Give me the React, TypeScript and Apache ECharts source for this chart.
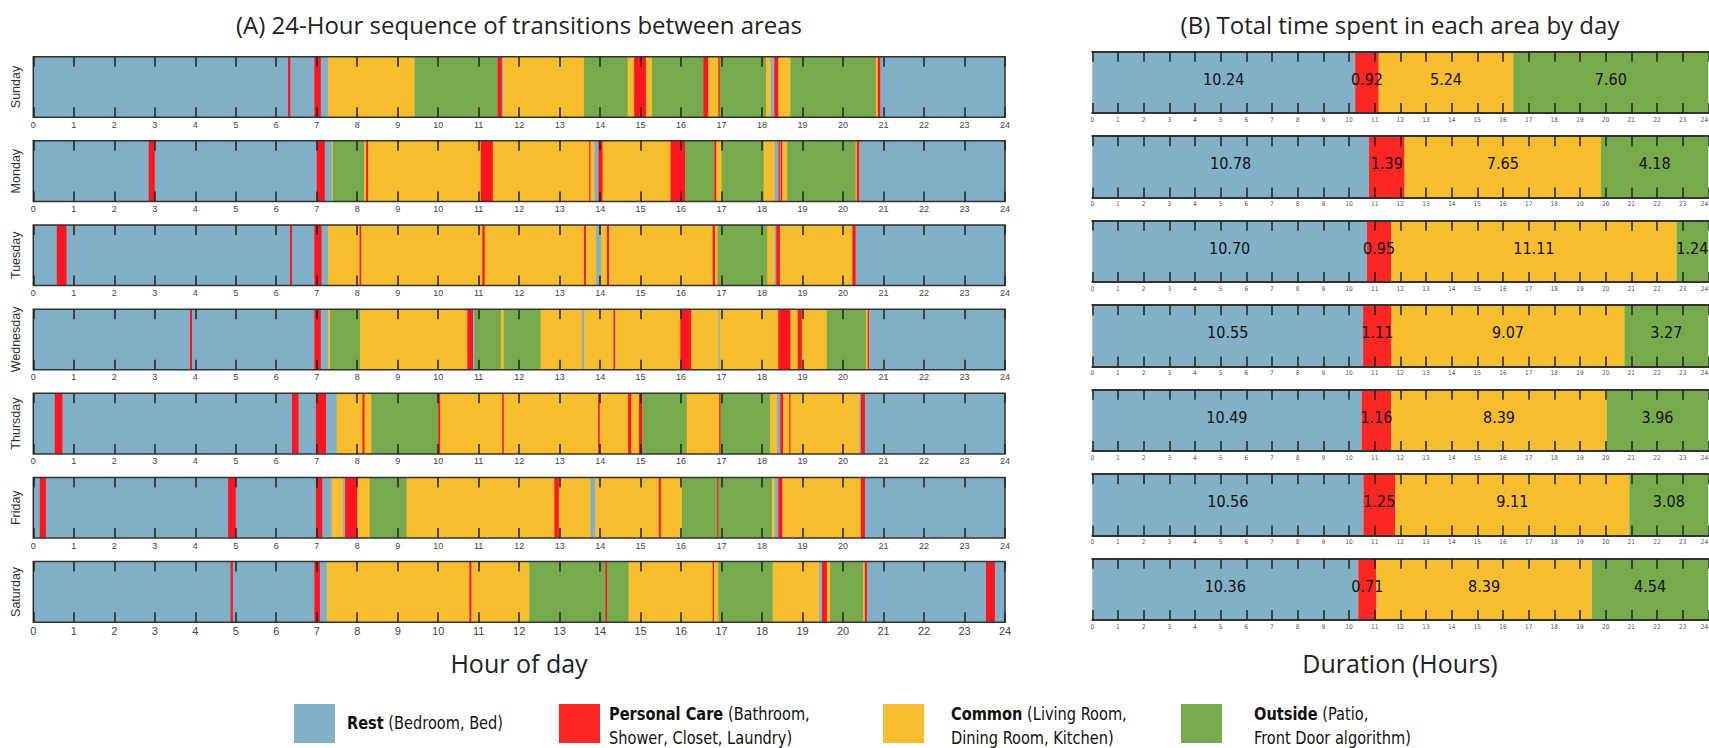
import { useEffect, useRef } from 'react';
import * as echarts from 'echarts';

// ---------- DATA ----------
const days = ['Sunday', 'Monday', 'Tuesday', 'Wednesday', 'Thursday', 'Friday', 'Saturday'];
const areaNames = ['Rest', 'Personal Care', 'Common', 'Outside'];
const areaDetails = ['(Bedroom, Bed)', '(Bathroom,\nShower, Closet, Laundry)', '(Living Room,\nDining Room, Kitchen)', '(Patio,\nFront Door algorithm)'];

// segments: [startHour, endHour, area]  (0 Rest, 1 Personal Care, 2 Common, 3 Outside)
const sunday = [[0,6.29,0],[6.29,6.35,1],[6.35,6.94,0],[6.94,7.10,1],[7.10,7.28,0],[7.28,9.42,2],[9.42,11.47,3],[11.47,11.57,1],[11.57,11.60,0],[11.60,13.60,2],[13.60,14.68,3],[14.68,14.84,2],[14.84,15.13,1],[15.13,15.28,2],[15.28,16.55,3],[16.55,16.67,1],[16.67,16.92,2],[16.92,16.95,1],[16.95,18.10,3],[18.10,18.21,2],[18.21,18.30,0],[18.30,18.40,1],[18.40,18.70,2],[18.70,20.81,3],[20.81,20.86,2],[20.86,20.92,1],[20.92,24,0]];
const monday = [[0,2.85,0],[2.85,3.00,1],[3.00,7.00,0],[7.00,7.20,1],[7.20,7.37,0],[7.37,7.40,2],[7.40,8.17,3],[8.17,8.22,2],[8.22,8.27,1],[8.27,11.05,2],[11.05,11.35,1],[11.35,13.73,2],[13.73,13.76,1],[13.76,13.86,2],[13.86,13.96,0],[13.96,14.06,1],[14.06,15.74,2],[15.74,16.10,1],[16.10,16.82,3],[16.82,16.87,1],[16.87,17.00,2],[17.00,18.04,3],[18.04,18.31,2],[18.31,18.41,0],[18.41,18.44,1],[18.44,18.46,2],[18.46,18.50,1],[18.50,18.62,2],[18.62,20.31,3],[20.31,20.34,2],[20.34,20.40,1],[20.40,24,0]];
const tuesday = [[0,0.58,0],[0.58,0.82,1],[0.82,6.34,0],[6.34,6.39,1],[6.39,6.94,0],[6.94,7.12,1],[7.12,7.28,0],[7.28,8.06,2],[8.06,8.10,1],[8.10,11.09,2],[11.09,11.15,1],[11.15,13.60,2],[13.60,13.65,1],[13.65,13.90,2],[13.90,14.02,0],[14.02,14.17,2],[14.17,14.22,1],[14.22,16.78,2],[16.78,16.84,1],[16.84,16.90,2],[16.90,18.13,3],[18.13,18.31,2],[18.31,18.35,0],[18.35,18.44,1],[18.44,20.23,2],[20.23,20.31,1],[20.31,24,0]];
const wednesday = [[0,3.87,0],[3.87,3.92,1],[3.92,6.94,0],[6.94,7.10,1],[7.10,7.28,0],[7.28,7.33,2],[7.33,8.07,3],[8.07,10.72,2],[10.72,10.86,1],[10.86,10.90,0],[10.90,11.55,3],[11.55,11.62,2],[11.62,12.53,3],[12.53,13.55,2],[13.55,13.60,0],[13.60,14.33,2],[14.33,14.37,1],[14.37,15.98,2],[15.98,16.25,1],[16.25,16.92,2],[16.92,16.95,0],[16.95,18.40,2],[18.40,18.70,1],[18.70,18.88,2],[18.88,18.98,1],[18.98,19.60,2],[19.60,20.57,3],[20.57,20.61,2],[20.61,20.64,1],[20.64,24,0]];
const thursday = [[0,0.53,0],[0.53,0.72,1],[0.72,6.39,0],[6.39,6.55,1],[6.55,6.98,0],[6.98,7.23,1],[7.23,7.49,0],[7.49,8.13,2],[8.13,8.18,1],[8.18,8.35,2],[8.35,10.00,3],[10.00,10.05,1],[10.05,11.58,2],[11.58,11.62,1],[11.62,13.95,2],[13.95,13.99,1],[13.99,14.69,2],[14.69,14.77,1],[14.77,14.96,2],[14.96,15.04,1],[15.04,16.14,3],[16.14,16.94,2],[16.94,16.97,1],[16.97,18.20,3],[18.20,18.37,2],[18.37,18.45,0],[18.45,18.52,1],[18.52,18.67,2],[18.67,18.70,1],[18.70,20.40,2],[20.40,20.44,0],[20.44,20.54,1],[20.54,24,0]];
const friday = [[0,0.16,0],[0.16,0.31,1],[0.31,4.81,0],[4.81,5.00,1],[5.00,6.98,0],[6.98,7.14,1],[7.14,7.37,0],[7.37,7.65,2],[7.65,7.70,0],[7.70,8.00,1],[8.00,8.31,2],[8.31,9.22,3],[9.22,12.87,2],[12.87,12.98,1],[12.98,13.76,2],[13.76,13.88,0],[13.88,15.45,2],[15.45,15.50,1],[15.50,16.02,2],[16.02,16.89,3],[16.89,16.92,1],[16.92,18.24,3],[18.24,18.31,2],[18.31,18.40,0],[18.40,18.50,1],[18.50,20.44,2],[20.44,20.54,1],[20.54,24,0]];
const saturday = [[0,4.87,0],[4.87,4.93,1],[4.93,6.94,0],[6.94,7.08,1],[7.08,7.25,0],[7.25,10.77,2],[10.77,10.82,1],[10.82,12.25,2],[12.25,14.13,3],[14.13,14.17,1],[14.17,14.70,3],[14.70,16.78,2],[16.78,16.81,1],[16.81,16.92,2],[16.92,18.26,3],[18.26,19.41,2],[19.41,19.48,0],[19.48,19.60,1],[19.60,19.68,2],[19.68,20.50,3],[20.50,20.54,2],[20.54,20.59,1],[20.59,23.53,0],[23.53,23.75,1],[23.75,24,0]];
const sequences = [sunday, monday, tuesday, wednesday, thursday, friday, saturday];

// total hours per area by day (Sunday..Saturday)
const restHours = [10.24, 10.78, 10.70, 10.55, 10.49, 10.56, 10.36];
const careHours = [0.92, 1.39, 0.95, 1.11, 1.16, 1.25, 0.71];
const commonHours = [5.24, 7.65, 11.11, 9.07, 8.39, 9.11, 8.39];
const outsideHours = [7.60, 4.18, 1.24, 3.27, 3.96, 3.08, 4.54];
const totals = [restHours, careHours, commonHours, outsideHours];

// ---------- STYLE ----------
const colorsA = ['#81B0C6', '#FD161F', '#F6BD2E', '#76AA4C'];
const colorsB = ['#82B0C6', '#FC2722', '#F6BD2E', '#77AA4B'];
const HELV = "'Liberation Sans', Arial, sans-serif";
const NARROW = "'Liberation Sans Narrow', 'DejaVu Sans Condensed', Lato, sans-serif";
const TITLE = "'Open Sans', 'Noto Sans', sans-serif";

const A_LEFT = 33.3, A_WIDTH = 971.7, A_TOP = 56.7, A_PITCH = 84.15, A_H = 60.6;
const B_LEFT = 1092.3, B_WIDTH = 616, B_TOP = 51.7, B_PITCH = 84.5, B_H = 61.3;

function buildOption() {
  const grid: any[] = [];
  const xAxis: any[] = [];
  const yAxis: any[] = [];
  const series: any[] = [];
  const graphic: any[] = [];

  days.forEach((day, i) => {
    const last = i === days.length - 1;
    // ---- panel A ----
    const gA = grid.length;
    grid.push({ left: A_LEFT, top: A_TOP + A_PITCH * i, width: A_WIDTH, height: A_H, show: true, borderColor: '#333', borderWidth: 1.5, backgroundColor: 'transparent', z: 10, outerBoundsMode: 'none' });
    const xbA = xAxis.length;
    xAxis.push({
      gridIndex: gA, type: 'value', min: 0, max: 24, interval: 1, position: 'bottom', z: 10,
      axisLine: { show: false }, splitLine: { show: false },
      axisTick: { show: true, inside: true, length: 10, lineStyle: { color: '#222', width: 1.5 } },
      axisLabel: { show: true, fontSize: last ? 11 : 9, color: '#444', margin: 3, fontFamily: HELV },
    });
    xAxis.push({
      gridIndex: gA, type: 'value', min: 0, max: 24, interval: 1, position: 'top', z: 10,
      axisLine: { show: false }, splitLine: { show: false },
      axisTick: { show: true, inside: true, length: 10, lineStyle: { color: '#222', width: 1.5 } },
      axisLabel: { show: false },
    });
    const yA = yAxis.length;
    yAxis.push({ gridIndex: gA, type: 'value', min: 0, max: 1, show: false });
    series.push({
      type: 'custom', xAxisIndex: xbA, yAxisIndex: yA, silent: true,
      encode: { x: [0, 1], y: 2 },
      data: sequences[i],
      renderItem: (params: any, api: any) => {
        const cs = params.coordSys;
        const s = api.value(0), e = api.value(1), c = api.value(2);
        const x0 = api.coord([s, 0])[0];
        const x1 = api.coord([e, 0])[0];
        let w = Math.max(x1 - x0, 1.6) + 0.5;
        if (x0 + w > cs.x + cs.width) w = cs.x + cs.width - x0;
        return { type: 'rect', shape: { x: x0, y: cs.y, width: w, height: cs.height }, style: { fill: colorsA[c] } };
      },
    });
    graphic.push({
      type: 'text', x: 16, y: A_TOP + A_PITCH * i + A_H / 2, rotation: Math.PI / 2,
      style: { text: day, fontSize: 12.5, fontFamily: HELV, fill: '#333', align: 'center', verticalAlign: 'middle' },
    });

    // ---- panel B ----
    const gB = grid.length;
    grid.push({ left: B_LEFT, top: B_TOP + B_PITCH * i, width: B_WIDTH, height: B_H, show: false, outerBoundsMode: 'none' });
    const xbB = xAxis.length;
    xAxis.push({
      gridIndex: gB, type: 'value', min: 0, max: 24, interval: 1, position: 'bottom', z: 10,
      axisLine: { show: true, onZero: false, lineStyle: { color: '#333', width: 2 } }, splitLine: { show: false },
      axisTick: { show: true, inside: true, length: 10, lineStyle: { color: '#222', width: 1.5 } },
      axisLabel: { show: true, fontSize: 6.5, color: '#555', margin: 3, fontFamily: NARROW, alignMaxLabel: 'right' },
    });
    xAxis.push({
      gridIndex: gB, type: 'value', min: 0, max: 24, interval: 1, position: 'top', z: 10,
      axisLine: { show: true, onZero: false, lineStyle: { color: '#333', width: 2 } }, splitLine: { show: false },
      axisTick: { show: true, inside: true, length: 10, lineStyle: { color: '#222', width: 1.5 } },
      axisLabel: { show: false },
    });
    const yB = yAxis.length;
    yAxis.push({ gridIndex: gB, type: 'category', data: [day], show: false });
    totals.forEach((vals, a) => {
      series.push({
        type: 'bar', name: areaNames[a], xAxisIndex: xbB, yAxisIndex: yB, stack: 'day' + i, silent: true,
        barWidth: '100%', data: [vals[i]],
        itemStyle: { color: colorsB[a] },
        label: {
          show: true, position: 'inside', offset: [0, -3],
          formatter: (p: any) => Number(p.value).toFixed(2),
          color: '#111', fontSize: 16, fontFamily: NARROW, textBorderWidth: 0,
        },
      });
    });
  });

  // titles
  graphic.push({ type: 'text', x: 519, y: 24, style: { text: '(A) 24-Hour sequence of transitions between areas', fontSize: 24, fontFamily: TITLE, fill: '#222', align: 'center', verticalAlign: 'middle' } });
  graphic.push({ type: 'text', x: 1400, y: 24, style: { text: '(B) Total time spent in each area by day', fontSize: 24, fontFamily: TITLE, fill: '#222', align: 'center', verticalAlign: 'middle' } });
  graphic.push({ type: 'text', x: 519, y: 663, style: { text: 'Hour of day', fontSize: 25, fontFamily: TITLE, fill: '#222', align: 'center', verticalAlign: 'middle' } });
  graphic.push({ type: 'text', x: 1400, y: 663, style: { text: 'Duration (Hours)', fontSize: 25, fontFamily: TITLE, fill: '#222', align: 'center', verticalAlign: 'middle' } });

  // legend
  const swatchX = [294, 559, 883, 1181];
  const textX = [347, 609, 951, 1254];
  areaNames.forEach((name, a) => {
    graphic.push({ type: 'rect', shape: { x: swatchX[a], y: 704, width: 41, height: 39 }, style: { fill: colorsB[a] } });
    const twoLines = areaDetails[a].indexOf('\n') >= 0;
    graphic.push({
      type: 'text', x: textX[a], y: twoLines ? 726 : 723, scaleX: 0.9,
      style: {
        text: '{b|' + name + '} ' + areaDetails[a],
        rich: { b: { fontWeight: 'bold', fontSize: 18, fontFamily: NARROW, fill: '#111', lineHeight: 24 } },
        fontSize: 18, fontFamily: NARROW, fill: '#111', lineHeight: 24,
        align: 'left', verticalAlign: 'middle',
      },
    });
  });

  return { animation: false, backgroundColor: '#ffffff', grid, xAxis, yAxis, series, graphic };
}

export default function App() {
  const ref = useRef<HTMLDivElement>(null);
  useEffect(() => {
    if (!ref.current) return;
    const chart = echarts.init(ref.current, undefined, { renderer: 'svg' });
    chart.setOption(buildOption() as any);
    return () => chart.dispose();
  }, []);
  return <div ref={ref} style={{ position: 'absolute', left: 0, top: 0, width: 1709, height: 748 }} />;
}
